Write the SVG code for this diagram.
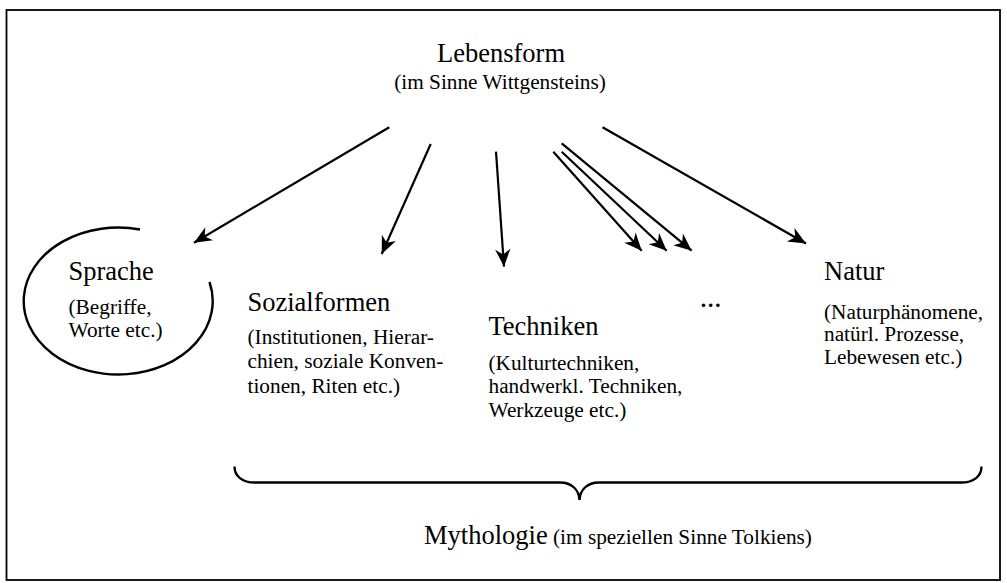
<svg xmlns="http://www.w3.org/2000/svg" width="1007" height="583" viewBox="0 0 1007 583">
<style>
text{font-family:"Liberation Serif","Times New Roman",serif;fill:#000}
.big{font-size:26.5px}
.small{font-size:21.3px}
.conn line{stroke:#000;stroke-width:2.2;marker-end:url(#ah)}
</style>
<defs>
<marker id="ah" markerUnits="userSpaceOnUse" markerWidth="20" markerHeight="20" viewBox="-16 -8 17 16" refX="0" refY="0" orient="auto">
<path d="M0,0 L-15,-6.5 L-10.5,0 L-15,6.5 Z" fill="#000"/>
</marker>
</defs>
<rect x="0" y="0" width="1007" height="583" fill="#fff"/>
<rect x="6.5" y="10" width="993.5" height="570" fill="none" stroke="#000" stroke-width="1.8"/>

<g id="lebensform">
<text class="big" x="501" y="62" text-anchor="middle">Lebensform</text>
<text class="small" x="500" y="89" text-anchor="middle">(im Sinne Wittgensteins)</text>
</g>

<g id="connectors" class="conn">
<line x1="389.3" y1="127.3" x2="194" y2="242.7"/>
<line x1="430.7" y1="144" x2="381.7" y2="254"/>
<line x1="496" y1="151.7" x2="504" y2="266.7"/>
<line x1="553.3" y1="151.7" x2="641.7" y2="250.7"/>
<line x1="561.7" y1="151.7" x2="666.7" y2="250.7"/>
<line x1="561.7" y1="143.3" x2="691.7" y2="250.7"/>
<line x1="602.5" y1="127.3" x2="806" y2="243.5"/>
</g>

<g id="sprache">
<path d="M140,229.5 A94.5,73.5 0 1 0 209.5,282" fill="none" stroke="#000" stroke-width="2.4"/>
<text class="big" x="68.5" y="280">Sprache</text>
<text class="small" x="68.5" y="314">(Begriffe,</text>
<text class="small" x="68.5" y="337">Worte etc.)</text>
</g>

<g id="sozialformen">
<text class="big" x="247.5" y="310.5">Sozialformen</text>
<text class="small" x="247.5" y="343.5">(Institutionen, Hierar-</text>
<text class="small" x="247.5" y="368">chien, soziale Konven-</text>
<text class="small" x="247.5" y="393">tionen, Riten etc.)</text>
</g>

<g id="techniken">
<text class="big" x="488.5" y="335">Techniken</text>
<text class="small" x="488.5" y="369.5">(Kulturtechniken,</text>
<text class="small" x="488.5" y="393">handwerkl. Techniken,</text>
<text class="small" x="488.5" y="416.5">Werkzeuge etc.)</text>
</g>

<g id="ellipsis">
<text class="small" x="700" y="306.5" font-weight="bold">…</text>
</g>

<g id="natur">
<text class="big" x="824" y="280">Natur</text>
<text class="small" x="824" y="318.5">(Naturphänomene,</text>
<text class="small" x="824" y="341">natürl. Prozesse,</text>
<text class="small" x="824" y="363.5">Lebewesen etc.)</text>
</g>

<g id="mythologie">
<path d="M234.5,466.5 C234.5,476 242,482.5 255,482.5 L560,482.5 C572,482.5 579,490 579.5,500 C580,490 587,482.5 599,482.5 L961,482.5 C974,482.5 981.5,476 981.5,466.5" fill="none" stroke="#000" stroke-width="2.4"/>
<text x="424" y="543.5"><tspan class="big">Mythologie</tspan><tspan class="small"> (im speziellen Sinne Tolkiens)</tspan></text>
</g>
</svg>
